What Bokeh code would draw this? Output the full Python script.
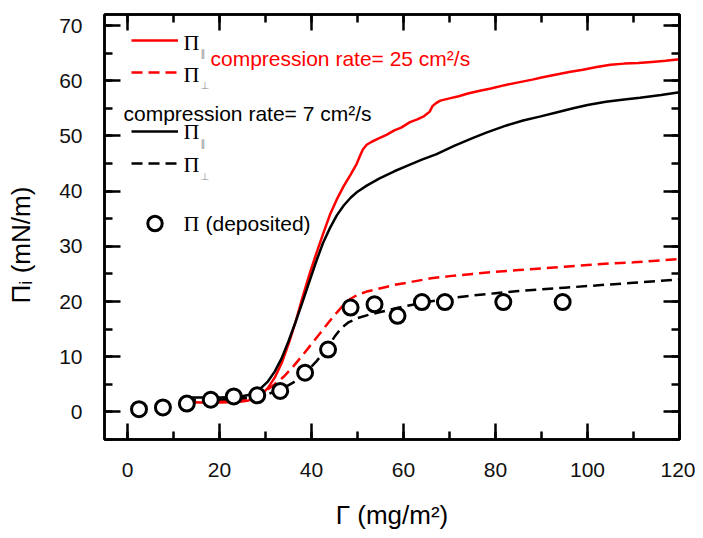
from bokeh.plotting import figure
from bokeh.models import (Range1d, LinearAxis, SingleIntervalTicker, Label, Legend,
                          LegendItem, CustomJSTickFormatter)
from bokeh.embed import file_html
from bokeh.resources import INLINE

# ---------------- data ----------------
dep_gamma = [2.5, 7.7, 12.9, 18.1, 23.1, 28.2, 33.2, 38.6, 43.6, 48.5, 53.7, 58.7, 64.0, 69.0, 81.7, 94.6]
dep_pi = [0.5, 0.8, 1.5, 2.2, 2.8, 3.0, 3.8, 7.1, 11.3, 18.9, 19.5, 17.4, 19.9, 19.9, 19.9, 19.9]

fast_par_gamma = [12.5, 16, 20, 24, 26, 27.5, 29, 30.5, 32, 33.5, 35, 36.5, 38, 39.5, 41, 42.5, 44,
                  45.5, 47, 48.5, 49.8, 50.6, 51.2, 52, 53, 54.5, 56.3, 58, 59.5, 61.4, 63, 64.5,
                  65.7, 66.3, 67, 68, 70, 72, 74, 76.6, 79, 82, 85, 88, 90, 93, 96, 99, 102, 105,
                  108, 111, 114, 117, 120]
fast_par_pi = [1.8, 1.7, 1.7, 1.8, 2.0, 2.4, 3.1, 4.3, 6.2, 8.8, 12.3, 16.2, 20.6, 24.8, 28.6, 32.2,
               35.7, 38.5, 40.9, 43.0, 44.9, 46.5, 47.6, 48.4, 48.9, 49.5, 50.2, 51.0, 51.5, 52.5,
               53.0, 53.6, 54.4, 55.4, 55.9, 56.4, 56.8, 57.2, 57.7, 58.2, 58.6, 59.2, 59.7, 60.2,
               60.6, 61.1, 61.6, 62.0, 62.5, 62.9, 63.1, 63.2, 63.4, 63.6, 63.9]

fast_perp_gamma = [12.5, 18, 24, 27, 29, 30.5, 32, 34, 36, 38, 40, 42, 44, 45.5, 47, 48.5, 50, 52,
                   54, 56, 58, 62, 66, 70, 75, 80, 85, 90, 95, 100, 105, 110, 115, 120]
fast_perp_pi = [1.9, 1.9, 2.1, 2.6, 3.3, 4.1, 5.0, 6.4, 8.2, 10.2, 12.3, 14.4, 16.5, 18.0, 19.4,
                20.5, 21.2, 21.8, 22.2, 22.6, 23.0, 23.6, 24.2, 24.6, 25.0, 25.4, 25.7, 26.0, 26.3,
                26.6, 26.9, 27.1, 27.4, 27.7]

slow_par_gamma = [12.5, 16, 20, 24, 26, 27.5, 29, 30.5, 32, 33.5, 35, 36.5, 38, 39.5, 41, 42.5, 44,
                  45.5, 47, 48.5, 50, 52, 54.8, 58, 61.4, 64, 67.2, 71, 75, 78, 82.4, 86, 89.6, 93,
                  96.9, 100, 104, 108, 111.4, 116, 120]
slow_par_pi = [2.6, 2.6, 2.6, 2.7, 3.0, 3.5, 4.3, 5.5, 7.3, 9.7, 12.8, 16.2, 19.8, 23.5, 27.2, 30.6,
               33.3, 35.6, 37.4, 38.8, 39.9, 41.0, 42.3, 43.6, 44.8, 45.7, 46.7, 48.2, 49.6, 50.6,
               51.9, 52.8, 53.5, 54.2, 55.0, 55.6, 56.2, 56.6, 56.9, 57.4, 57.9]

slow_perp_gamma = [12.5, 18, 24, 28, 30, 33, 36, 38.5, 41, 43.5, 45, 46.5, 48, 50, 52.5, 55, 60, 65,
                   70, 75, 80, 85, 90, 95, 100, 105, 110, 115, 120]
slow_perp_pi = [2.1, 2.2, 2.4, 2.7, 3.1, 3.9, 5.3, 6.9, 9.1, 11.6, 13.6, 15.2, 16.2, 17.0, 17.6, 18.1,
                19.1, 19.9, 20.6, 21.1, 21.5, 21.9, 22.2, 22.5, 22.8, 23.1, 23.4, 23.7, 24.0]

x_start, x_end = -5, 120
y_start, y_end = -5, 72
x_title = "Γ (mg/m²)"
y_title = "Πᵢ (mN/m)" + "\u00a0" * 5  # trailing no-break spaces shift the title down a little

RED = "#ff0000"
SANS = "Liberation Sans"
SERIF = "Liberation Serif"
SUBC = "#8a8a8a"

# ---------------- figure ----------------
p = figure(x_range=Range1d(x_start, x_end), y_range=Range1d(y_start, y_end),
           frame_width=575, frame_height=425,
           min_border_left=104, min_border_right=16, min_border_top=14, min_border_bottom=91,
           output_backend="svg", toolbar_location=None)
p.xgrid.visible = False
p.ygrid.visible = False
p.outline_line_color = "black"
p.outline_line_width = 2.5
p.background_fill_color = "white"
p.border_fill_color = "white"


def style_axis(ax, interval, show_labels, standoff):
    ax.ticker = SingleIntervalTicker(interval=interval, num_minor_ticks=2)
    ax.axis_line_width = 2.5
    ax.axis_line_color = "black"
    ax.major_tick_in = 16
    ax.major_tick_out = 0
    ax.minor_tick_in = 8
    ax.minor_tick_out = 0
    ax.major_tick_line_width = 2.5
    ax.minor_tick_line_width = 2.5
    ax.major_tick_line_color = "black"
    ax.minor_tick_line_color = "black"
    ax.major_label_text_font = SANS
    ax.major_label_text_font_size = "21px"
    ax.major_label_text_color = "#111111"
    ax.major_label_standoff = standoff
    if not show_labels:
        ax.formatter = CustomJSTickFormatter(code="return ''")
        ax.major_label_standoff = 0


style_axis(p.xaxis[0], 20, True, 23)
style_axis(p.yaxis[0], 10, True, 22)
p.xaxis[0].axis_label = x_title
p.yaxis[0].axis_label = y_title
for ax in (p.xaxis[0], p.yaxis[0]):
    ax.axis_label_text_font = SANS
    ax.axis_label_text_font_style = "normal"
    ax.axis_label_text_font_size = "26px"
    ax.axis_label_text_color = "black"
p.xaxis[0].axis_label_standoff = 20
p.yaxis[0].axis_label_standoff = 20

top_ax = LinearAxis()
right_ax = LinearAxis()
style_axis(top_ax, 20, False, 0)
style_axis(right_ax, 10, False, 0)
p.add_layout(top_ax, "above")
p.add_layout(right_ax, "right")

# ---------------- data glyphs ----------------
r_fp = p.line(fast_par_gamma, fast_par_pi, line_color=RED, line_width=2.5)
r_fq = p.line(fast_perp_gamma, fast_perp_pi, line_color=RED, line_width=2.5, line_dash="11 6")
r_sp = p.line(slow_par_gamma, slow_par_pi, line_color="black", line_width=2.5)
r_sq = p.line(slow_perp_gamma, slow_perp_pi, line_color="black", line_width=2.5, line_dash="11 6")
r_dep = p.scatter(dep_gamma, dep_pi, marker="circle", size=15, line_color="black",
                  line_width=3, fill_color="white")

# ---------------- legend keys (frame screen coords, origin bottom-left) ----------------
FB = 439  # reference y of frame bottom
FL = 104  # reference x of frame left


def key(renderer, ref_y, gh=20):
    leg = Legend(items=[LegendItem(label=" ", renderers=[renderer])],
                 location=(27, FB - ref_y - gh / 2), orientation="vertical",
                 padding=0, margin=0, spacing=0, glyph_width=47, glyph_height=gh,
                 label_width=0, label_height=gh, label_standoff=0,
                 border_line_alpha=0, background_fill_alpha=0,
                 label_text_font_size="1px")
    p.add_layout(leg)


key(r_fp, 40)
key(r_fq, 72)
key(r_sp, 131)
key(r_sq, 163)
key(r_dep, 223, gh=36)


def lab(ref_x, ref_y, text, size, font=SANS, color="black"):
    p.add_layout(Label(x=ref_x - FL, y=FB - ref_y, x_units="screen", y_units="screen",
                       text=text, text_font=font, text_font_size=size, text_color=color,
                       text_align="left", text_baseline="middle"))


# legend texts
lab(183, 42, "Π", "22px", SERIF)
lab(200, 53, "∥", "10px", "DejaVu Sans", SUBC)
lab(210, 58, "compression rate= 25 cm²/s", "21px", SANS, RED)
lab(183, 74, "Π", "22px", SERIF)
lab(200, 85, "⊥", "10px", "DejaVu Sans", SUBC)
lab(123, 113, "compression rate= 7 cm²/s", "21px", SANS, "black")
lab(183, 131, "Π", "22px", SERIF)
lab(200, 143, "∥", "10px", "DejaVu Sans", SUBC)
lab(183, 164, "Π", "22px", SERIF)
lab(200, 176, "⊥", "10px", "DejaVu Sans", SUBC)
lab(183, 223, "Π", "22px", SERIF)
lab(205, 223, "(deposited)", "21px", SANS)

open("out.html", "w").write(file_html(p, INLINE))
